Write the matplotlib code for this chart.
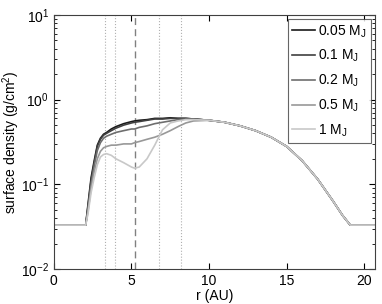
import matplotlib
matplotlib.use("Agg")
import matplotlib.pyplot as plt
import numpy as np

plt.rcParams['font.family'] = ['Liberation Sans', 'DejaVu Sans']
plt.rcParams['mathtext.fontset'] = 'custom'
plt.rcParams['mathtext.rm'] = 'Liberation Sans'
plt.rcParams['mathtext.it'] = 'Liberation Sans'

# radius grid (AU)
r = [0, 2.05, 2.2, 2.4, 2.6, 2.8, 3.0, 3.2, 3.4, 3.7, 4.0, 4.5, 5.0, 5.2, 5.5,
     6.0, 6.5, 7.0, 7.5, 8.0, 8.5, 9.0, 10, 11, 12, 13, 14, 15, 16, 17, 18,
     18.6, 19.1, 20.7]

# shared outer disc profile (r >= 10)
outer = [0.57, 0.54, 0.49, 0.43, 0.36, 0.28, 0.19, 0.115, 0.063, 0.043, 0.033, 0.033]

sig_005 = [0.033, 0.033, 0.058, 0.120, 0.19, 0.29, 0.35, 0.39, 0.41, 0.45, 0.48, 0.52,
           0.55, 0.56, 0.57, 0.58, 0.60, 0.60, 0.61, 0.60, 0.60, 0.59] + outer
sig_01 = [0.033, 0.033, 0.055, 0.112, 0.18, 0.28, 0.34, 0.38, 0.40, 0.43, 0.46, 0.50,
          0.53, 0.54, 0.55, 0.57, 0.59, 0.59, 0.60, 0.60, 0.60, 0.59] + outer
sig_02 = [0.033, 0.033, 0.052, 0.100, 0.165, 0.25, 0.31, 0.35, 0.37, 0.39, 0.41, 0.43,
          0.45, 0.45, 0.47, 0.49, 0.52, 0.54, 0.56, 0.58, 0.59, 0.59] + outer
sig_05 = [0.033, 0.033, 0.048, 0.090, 0.14, 0.20, 0.245, 0.27, 0.28, 0.29, 0.29, 0.30,
          0.30, 0.31, 0.32, 0.34, 0.36, 0.39, 0.43, 0.48, 0.53, 0.56] + outer
sig_1 = [0.033, 0.033, 0.045, 0.080, 0.12, 0.17, 0.21, 0.225, 0.23, 0.22, 0.20, 0.18,
         0.16, 0.155, 0.16, 0.20, 0.29, 0.44, 0.53, 0.56, 0.58, 0.58] + outer

labels = ['0.05 M$_\\mathregular{J}$', '0.1 M$_\\mathregular{J}$',
          '0.2 M$_\\mathregular{J}$', '0.5 M$_\\mathregular{J}$', '1 M$_\\mathregular{J}$']
series = [sig_005, sig_01, sig_02, sig_05, sig_1]
greys = ['#1a1a1a', '#404040', '#6e6e6e', '#989898', '#c8c8c8']

# planet orbit and resonance locations
a_planet = 5.2
resonances = [3.27, 3.96, 6.8, 8.2]

fig = plt.figure(figsize=(3.82, 3.04), dpi=100)
ax = fig.add_axes([0.141, 0.115, 0.841, 0.836])

for x in resonances:
    ax.axvline(x, color='#b0b0b0', ls=':', lw=0.8, zorder=1)
ax.axvline(a_planet, color='#808080', ls=(0, (5, 3)), lw=1.0, zorder=1)

for s, lab, c in zip(series, labels, greys):
    ax.plot(r, s, color=c, lw=1.2, label=lab, zorder=2)

ax.set_yscale('log')
ax.set_xlim(0, 20.7)
ax.set_ylim(1e-2, 1e1)
ax.set_xticks([0, 5, 10, 15, 20])
ax.tick_params(which='both', direction='in', top=True, right=True, labelsize=10)
ax.tick_params(which='major', length=4)
ax.tick_params(which='minor', length=2)
ax.minorticks_on()
ax.xaxis.set_minor_locator(matplotlib.ticker.NullLocator())
for sp in ax.spines.values():
    sp.set_color('#404040')

ax.set_xlabel('r (AU)', fontsize=10, labelpad=1)
ax.set_ylabel('surface density (g/cm$^\\mathregular{2}$)', fontsize=10)
ax.yaxis.set_label_coords(-0.098, 0.5)

leg = ax.legend(loc='upper right', fontsize=10, frameon=True, fancybox=False,
                handlelength=1.6, handletextpad=0.25, labelspacing=0.6,
                borderaxespad=0.3, borderpad=0.3)
leg.get_frame().set_edgecolor('#404040')
leg.get_frame().set_linewidth(0.8)

fig.savefig('out.png', dpi=100)
